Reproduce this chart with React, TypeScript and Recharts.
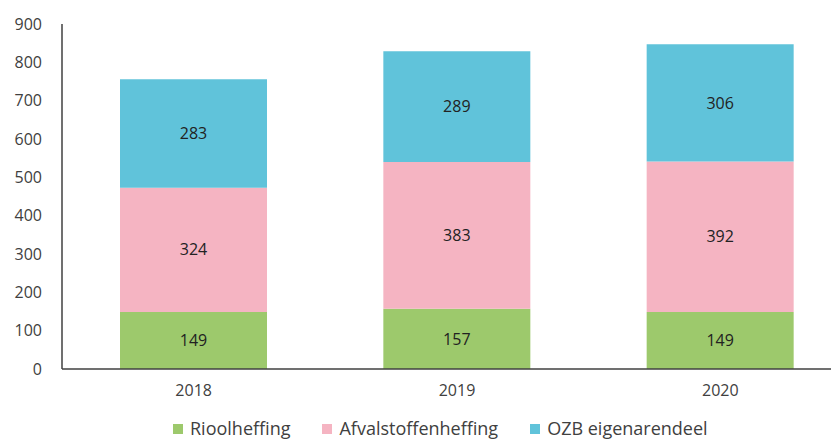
import { BarChart, Bar, XAxis, YAxis, LabelList } from "recharts";

const years = ["2018", "2019", "2020"];
const rioolheffing = [149, 157, 149];
const afvalstoffenheffing = [324, 383, 392];
const ozbEigenarendeel = [283, 289, 306];
const yTicks = [0, 100, 200, 300, 400, 500, 600, 700, 800, 900];

const series = [
    { key: "riool", name: "Rioolheffing", color: "#9dc96c" },
    { key: "afval", name: "Afvalstoffenheffing", color: "#f5b4c2" },
    { key: "ozb", name: "OZB eigenarendeel", color: "#60c3da" },
];

const data = years.map((y, i) => ({
    year: y,
    riool: rioolheffing[i],
    afval: afvalstoffenheffing[i],
    ozb: ozbEigenarendeel[i],
}));

const font = "'Open Sans', 'Noto Sans', sans-serif";
const tick = { fill: "#404040", fontSize: 16, fontFamily: font };

export default function App() {
    return (
        <div style={{ position: "relative", width: 831, height: 433, overflow: "hidden", fontFamily: font }}>
            <BarChart
                width={844}
                height={400}
                data={data}
                margin={{ top: 16, right: 0, bottom: 0, left: 0 }}
                barSize={147}
            >
                <XAxis
                    dataKey="year"
                    tick={tick}
                    tickLine={false}
                    tickMargin={10}
                    height={39}
                    axisLine={{ stroke: "#404040", strokeWidth: 1.5 }}
                />
                <YAxis
                    width={54}
                    domain={[0, 900]}
                    ticks={yTicks}
                    interval={0}
                    tick={tick}
                    tickLine={false}
                    tickMargin={14}
                    axisLine={{ stroke: "#404040", strokeWidth: 1.5 }}
                />
                {series.map((s) => (
                    <Bar
                        key={s.key}
                        dataKey={s.key}
                        name={s.name}
                        stackId="a"
                        fill={s.color}
                        isAnimationActive={false}
                    >
                        <LabelList
                            dataKey={s.key}
                            position="center"
                            fill="#222222"
                            fontSize={16}
                            fontFamily={font}
                        />
                    </Bar>
                ))}
            </BarChart>
            {/* legend sits below the plot, just above the bottom edge */}
            <div
                style={{
                    position: "absolute",
                    top: 409,
                    left: 165,
                    display: "flex",
                    gap: 32,
                    fontSize: 18,
                    color: "#404040",
                    lineHeight: "23px",
                    whiteSpace: "nowrap",
                }}
            >
                {series.map((s) => (
                    <div key={s.key} style={{ display: "flex", alignItems: "center" }}>
                        <span style={{ width: 10, height: 10, background: s.color, marginRight: 7, display: "inline-block" }} />
                        <span>{s.name}</span>
                    </div>
                ))}
            </div>
        </div>
    );
}
